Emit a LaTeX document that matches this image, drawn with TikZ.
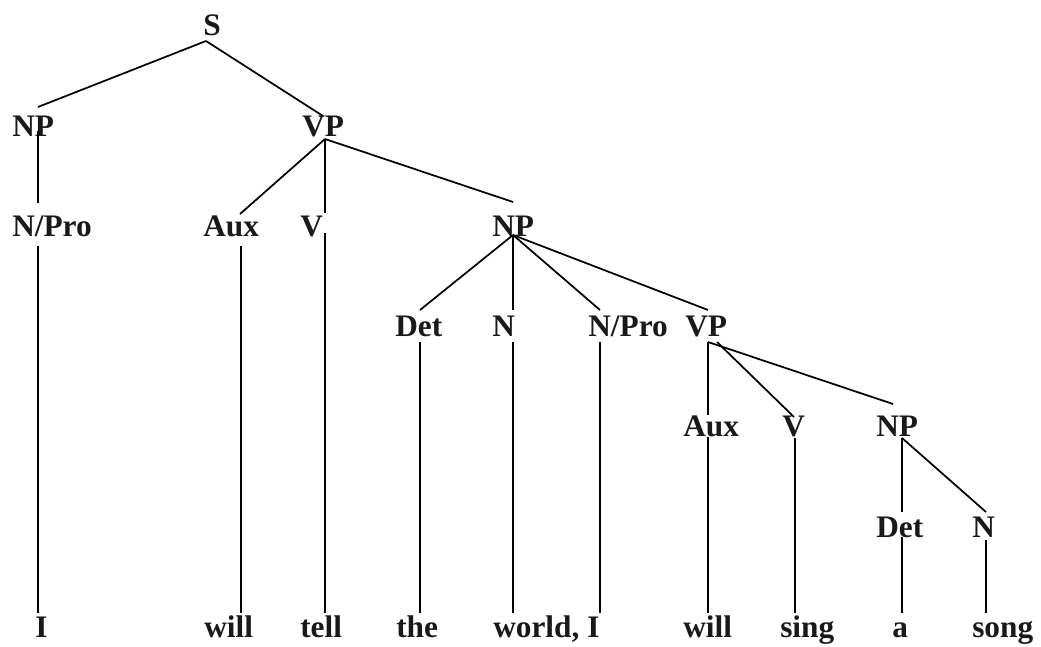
\documentclass[tikz,border=0pt]{standalone}
\usepackage{fontspec}
\setmainfont{Liberation Serif}
\begin{document}
\begin{tikzpicture}[
  x=0.75pt, y=-0.75pt,
  cat/.style={inner sep=0pt, anchor=base west, font=\fontsize{23.5}{27}\selectfont\bfseries, text=black!90},
  branch/.style={line width=1.3pt, draw=black},
]
\useasboundingbox (0,0) rectangle (1041,646);

% categories
\node[cat] (s)     at (203,36)  {S};
\node[cat] (np1)   at (12,136)  {NP};
\node[cat] (vp1)   at (302,136) {VP};
\node[cat] (npro1) at (12,236)  {N/Pro};
\node[cat] (aux1)  at (203,236) {Aux};
\node[cat] (v1)    at (300,236) {V};
\node[cat] (np2)   at (492,236) {NP};
\node[cat] (det1)  at (395,336) {Det};
\node[cat] (n1)    at (492,336) {N};
\node[cat] (npro2) at (588,336) {N/Pro};
\node[cat] (vp2)   at (685,336) {VP};
\node[cat] (aux2)  at (683,436) {Aux};
\node[cat] (v2)    at (782,436) {V};
\node[cat] (np3)   at (876,436) {NP};
\node[cat] (det2)  at (876,537) {Det};
\node[cat] (n2)    at (972,537) {N};

% words
\node[cat] (i)     at (35,637)  {I};
\node[cat] (will)  at (204,637) {will};
\node[cat] (tell)  at (300,637) {tell};
\node[cat] (the)   at (396,637) {the};
\node[cat] (world) at (493,637) {world, I};
\node[cat] (will2) at (683,637) {will};
\node[cat] (sing)  at (780,637) {sing};
\node[cat] (a)     at (892,637) {a};
\node[cat] (song)  at (972,637) {song};

% attachment points
\coordinate (sB)     at (206,41);
\coordinate (np1T)   at (38,107);   \coordinate (np1B)   at (38,131);
\coordinate (vp1T)   at (323,116);  \coordinate (vp1B)   at (325,139);
\coordinate (npro1T) at (38,203);   \coordinate (npro1B) at (38,246);
\coordinate (aux1T)  at (240,214);  \coordinate (aux1B)  at (241,246);
\coordinate (v1T)    at (325,213);  \coordinate (v1B)    at (325,233);
\coordinate (np2T)   at (513,202);  \coordinate (np2B)   at (513,235);
\coordinate (det1T)  at (420,310);  \coordinate (det1B)  at (420,342);
\coordinate (n1T)    at (513,310);  \coordinate (n1B)    at (513,342);
\coordinate (npro2T) at (600,310);  \coordinate (npro2B) at (600,342);
\coordinate (vp2T)   at (708,310);  \coordinate (vp2B)   at (708,342);
\coordinate (vp2Bv)  at (717,342);
\coordinate (aux2T)  at (708,415);  \coordinate (aux2B)  at (708,437);
\coordinate (v2T)    at (794,417);  \coordinate (v2B)    at (795,438);
\coordinate (np3T)   at (893,404);  \coordinate (np3B)   at (902,438);
\coordinate (det2T)  at (902,512);  \coordinate (det2B)  at (902,537);
\coordinate (n2T)    at (986,512);  \coordinate (n2B)    at (986,540);
\coordinate (iT)     at (38,613);
\coordinate (willT)  at (241,613);
\coordinate (tellT)  at (325,613);
\coordinate (theT)   at (420,613);
\coordinate (worldT) at (513,613);
\coordinate (i2T)    at (600,613);
\coordinate (will2T) at (708,613);
\coordinate (singT)  at (795,613);
\coordinate (aT)     at (902,613);
\coordinate (songT)  at (986,613);

% branches
\foreach \from/\to in {sB/np1T, sB/vp1T, np1B/npro1T, npro1B/iT,
                       vp1B/aux1T, vp1B/v1T, vp1B/np2T, aux1B/willT, v1B/tellT,
                       np2B/det1T, np2B/n1T, np2B/npro2T, np2B/vp2T,
                       det1B/theT, n1B/worldT, npro2B/i2T,
                       vp2B/aux2T, vp2Bv/v2T, vp2B/np3T, aux2B/will2T, v2B/singT,
                       np3B/det2T, np3B/n2T, det2B/aT, n2B/songT}
  \draw[branch] (\from) -- (\to);

\end{tikzpicture}
\end{document}
